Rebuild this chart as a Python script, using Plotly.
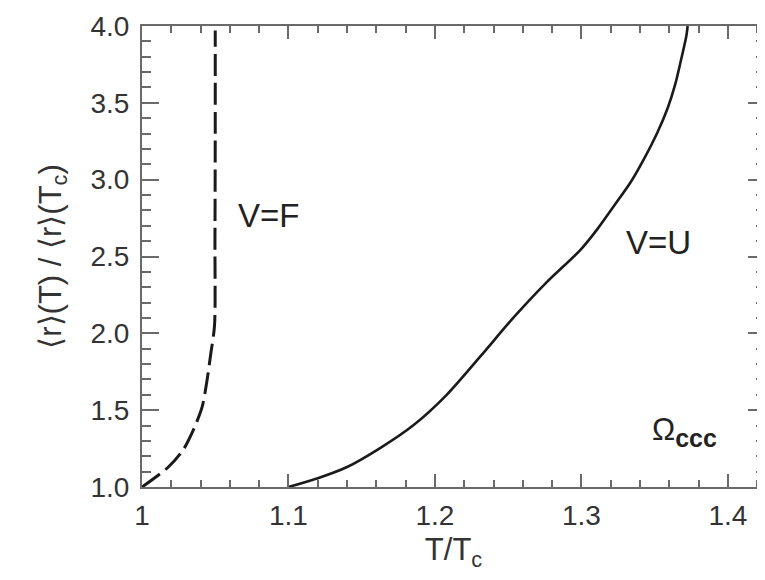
import plotly.graph_objects as go

# V=F (dashed) curve
vf_x = [1.000, 1.018, 1.028, 1.035, 1.041, 1.044, 1.047, 1.0495, 1.0498, 1.0500, 1.0500]
vf_y = [1.00, 1.13, 1.24, 1.37, 1.52, 1.67, 1.87, 2.05, 2.60, 3.30, 3.97]

# V=U (solid) curve
vu_x = [1.100, 1.120, 1.140, 1.162, 1.185, 1.208, 1.231, 1.2534, 1.276, 1.299,
        1.311, 1.323, 1.334, 1.343, 1.352, 1.359, 1.364, 1.368, 1.3715, 1.3725]
vu_y = [1.00, 1.057, 1.13, 1.25, 1.40, 1.60, 1.85, 2.10, 2.33, 2.54,
        2.68, 2.84, 2.99, 3.14, 3.31, 3.47, 3.62, 3.78, 3.93, 4.00]

x_ticks = [1.0, 1.1, 1.2, 1.3, 1.4]
x_ticklabels = ["1", "1.1", "1.2", "1.3", "1.4"]
y_ticks = [1.0, 1.5, 2.0, 2.5, 3.0, 3.5, 4.0]
y_ticklabels = ["1.0", "1.5", "2.0", "2.5", "3.0", "3.5", "4.0"]

FONT = "Liberation Sans, Arial, Helvetica, sans-serif"
AX = "#6a6a6a"

fig = go.Figure()
fig.add_trace(go.Scatter(x=vf_x, y=vf_y, mode="lines",
                         line=dict(color="#1a1a1a", width=3, dash="22px,7px", shape="spline", smoothing=0.8),
                         showlegend=False, hoverinfo="skip"))
fig.add_trace(go.Scatter(x=vu_x, y=vu_y, mode="lines",
                         line=dict(color="#1a1a1a", width=2.6, shape="spline", smoothing=0.8),
                         showlegend=False, hoverinfo="skip"))

fig.add_annotation(x=1.064, y=2.77, xref="x", yref="y", text="V=F", showarrow=False,
                   xanchor="left", yanchor="middle", font=dict(family=FONT, size=33, color="#222"))
fig.add_annotation(x=1.3290, y=2.59, xref="x", yref="y", text="V=U", showarrow=False,
                   xanchor="left", yanchor="middle", font=dict(family=FONT, size=33, color="#222"))
fig.add_annotation(x=1.347, y=1.36, xref="x", yref="y",
                   text="Ω<sub><span style='font-size:25px'><b>ccc</b></span></sub>", showarrow=False,
                   xanchor="left", yanchor="middle", font=dict(family=FONT, size=31, color="#222"))

fig.update_layout(
    width=757, height=564,
    margin=dict(l=134, r=0, t=18, b=85),
    plot_bgcolor="white", paper_bgcolor="white",
    font=dict(family=FONT, size=28, color="#333"),
    xaxis=dict(range=[1.0, 1.4253], tickvals=x_ticks, ticktext=x_ticklabels,
               showgrid=False, zeroline=False, showline=True, linecolor=AX, linewidth=2,
               mirror="ticks", ticks="inside", ticklen=13, tickwidth=2, tickcolor=AX,
               minor=dict(dtick=0.02, ticks="inside", ticklen=7, tickwidth=1.5, tickcolor=AX, showgrid=False),
               ticklabelstandoff=2, automargin=False,
               title=dict(text="T/T<sub>c</sub>", font=dict(size=31, color="#333"), standoff=10)),
    yaxis=dict(range=[1.0, 4.0], tickvals=y_ticks, ticktext=y_ticklabels,
               showgrid=False, zeroline=False, showline=True, linecolor=AX, linewidth=2,
               mirror="ticks", ticks="inside", ticklen=17, tickwidth=2, tickcolor=AX,
               minor=dict(dtick=0.1, ticks="inside", ticklen=9, tickwidth=1.5, tickcolor=AX, showgrid=False),
               ticklabelstandoff=5, automargin=False,
               title=dict(text="⟨r⟩(T) / ⟨r⟩(T<sub>c</sub>)", font=dict(size=31, color="#333"), standoff=20)),
)

fig.write_html("out.html")
